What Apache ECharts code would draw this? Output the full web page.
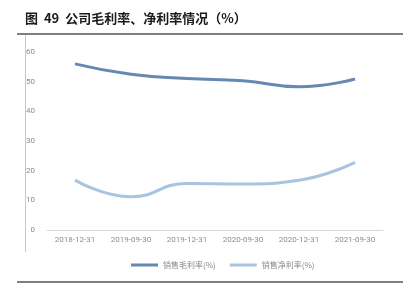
<!DOCTYPE html>
<html><head><meta charset="utf-8">
<script src="https://cdn.jsdelivr.net/npm/echarts@6/dist/echarts.min.js"></script>
<style>html,body{margin:0;padding:0;background:#fff}#c{width:414px;height:298px}</style>
</head><body><div id="c"></div>
<script>
const categories = ['2018-12-31','2019-09-30','2019-12-31','2020-09-30','2020-12-31','2021-09-30'];
const grossMargin = [56.0, 52.5, 51.1, 50.3, 48.3, 50.9];
const netMargin = [16.8, 11.2, 15.7, 15.5, 16.8, 22.8];
const yTicks = {min: 0, max: 60, interval: 10};
const seriesNames = ['销售毛利率(%)', '销售净利率(%)'];
const titleText = '图  49  公司毛利率、净利率情况（%）';

const chart = echarts.init(document.getElementById('c'), null, {renderer: 'canvas'});
chart.setOption({
  animation: false,
  backgroundColor: '#fff',
  graphic: [
    {type: 'text', left: 25, top: 12, style: {text: titleText, font: 'bold 13px "Noto Sans CJK SC", sans-serif', fill: '#1a1a1a'}},
    {type: 'line', shape: {x1: 17, y1: 34, x2: 403, y2: 34}, style: {stroke: '#555', lineWidth: 1.5}},
    {type: 'line', shape: {x1: 25.5, y1: 35, x2: 25.5, y2: 252}, style: {stroke: '#c8c8c8', lineWidth: 1}},
    {type: 'line', shape: {x1: 17, y1: 282, x2: 403, y2: 282}, style: {stroke: '#555', lineWidth: 1.5}}
  ],
  legend: {
    bottom: 24, left: 126,
    itemWidth: 27, itemHeight: 3, itemGap: 14,
    textStyle: {fontSize: 8, color: '#8a8a8a', fontFamily: '"Noto Sans CJK SC", serif'},
    icon: 'rect',
    data: seriesNames
  },
  grid: {left: 47, right: 31, top: 52, bottom: 68, containLabel: false},
  xAxis: {
    type: 'category', data: categories, boundaryGap: true,
    axisLine: {lineStyle: {color: '#d9d9d9'}},
    axisTick: {show: false},
    axisLabel: {fontSize: 8, color: '#8c8c8c', margin: 6, fontFamily: 'Roboto, sans-serif'}
  },
  yAxis: {
    type: 'value', min: yTicks.min, max: yTicks.max, interval: yTicks.interval,
    axisLine: {show: false}, axisTick: {show: false}, splitLine: {show: false},
    axisLabel: {fontSize: 8, color: '#8c8c8c', margin: 12, fontFamily: 'Roboto, sans-serif'}
  },
  series: [
    {name: seriesNames[0], type: 'line', data: grossMargin, smooth: 0.5, symbol: 'none',
     lineStyle: {width: 3, color: '#6589b3'}, itemStyle: {color: '#6589b3'}},
    {name: seriesNames[1], type: 'line', data: netMargin, smooth: 0.5, symbol: 'none',
     lineStyle: {width: 3, color: '#a9c4e0'}, itemStyle: {color: '#a9c4e0'}}
  ]
});
</script></body></html>
